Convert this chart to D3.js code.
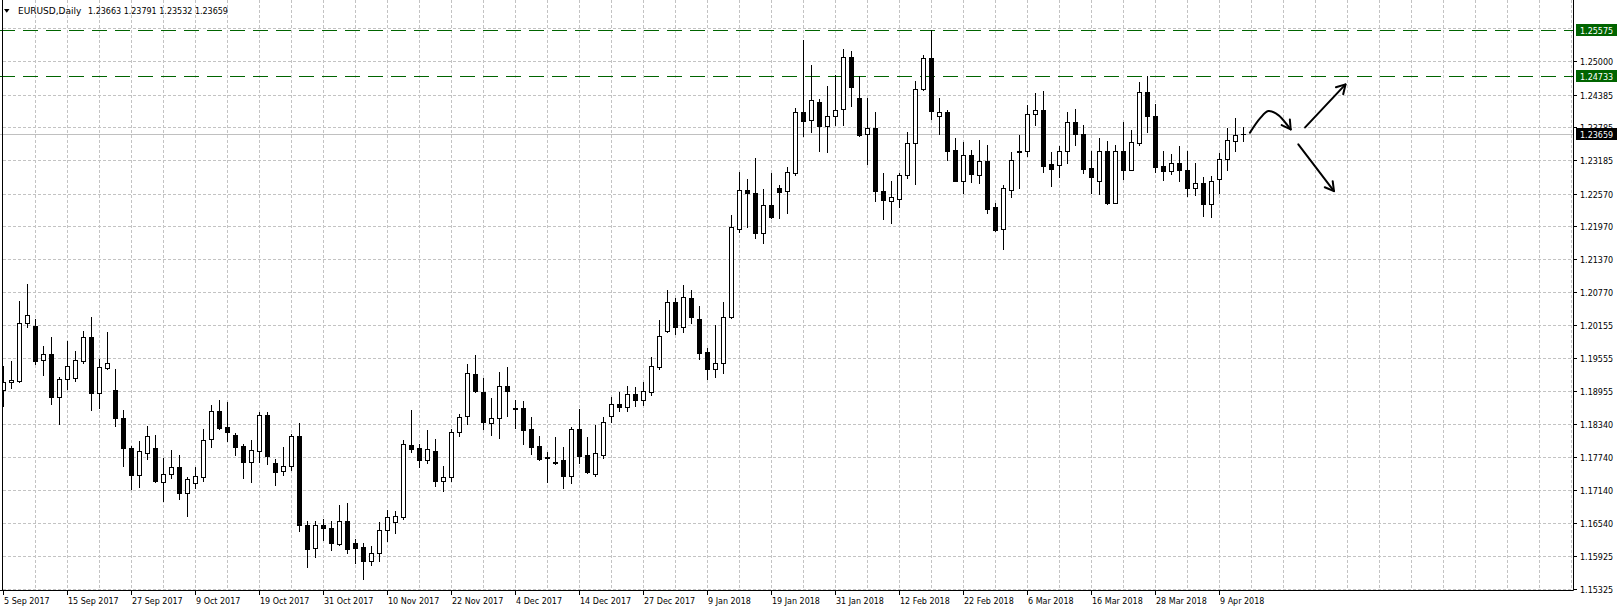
<!DOCTYPE html>
<html><head><meta charset="utf-8">
<script src="https://cdn.jsdelivr.net/npm/d3@7/dist/d3.min.js"></script>
<style>
body{margin:0;background:#fff;}
svg{display:block;}
text{font-family:"DejaVu Sans",sans-serif;}
</style>
</head><body>
<svg id="c" width="1617" height="613" font-size="8px"></svg>
<script>
const symbolTitle = "EURUSD,Daily";
const openP = [1.1897,1.1911,1.1914,1.2019,1.2015,1.1952,1.1964,1.1884,1.1917,1.1920,
1.1951,1.1994,1.1891,1.1938,1.1897,1.1846,1.1791,1.1742,1.1782,1.1791,
1.1729,1.1743,1.1756,1.1709,1.1727,1.1738,1.1807,1.1858,1.1829,1.1814,
1.1795,1.1765,1.1785,1.1851,1.1763,1.1748,1.1758,1.1812,1.1649,1.1607,
1.1650,1.1644,1.1615,1.1657,1.1616,1.1609,1.1584,1.1599,1.1640,1.1656,
1.1665,1.1796,1.1791,1.1768,1.1785,1.1731,1.1737,1.1821,1.1849,1.1926,
1.1894,1.1836,1.1845,1.1904,1.1864,1.1864,1.1826,1.1795,1.1774,1.1766,
1.1769,1.1740,1.1826,1.1778,1.1743,1.1778,1.1849,1.1872,1.1866,1.1890,
1.1878,1.1893,1.1939,1.2005,1.2058,1.2013,1.2065,1.2027,1.1967,1.1935,
1.1946,1.2030,1.2193,1.2263,1.2258,1.2184,1.2236,1.2268,1.2261,1.2294,
1.2406,1.2392,1.2424,1.2380,1.2400,1.2412,1.2507,1.2433,1.2366,1.2377,
1.2261,1.2244,1.2247,1.2291,1.2349,1.2448,1.2505,1.2400,1.2407,1.2337,
1.2281,1.2328,1.2292,1.2317,1.2232,1.2192,1.2264,1.2335,1.2335,1.2402,
1.2410,1.2311,1.2309,1.2335,1.2389,1.2366,1.2304,1.2280,1.2335,1.2240,
1.2336,1.2301,1.2349,1.2443,1.2400,1.2307,1.2298,1.2314,1.2300,1.2268,
1.2276,1.2238,1.2283,1.2320,1.2353,1.23663];
const highP = [1.1941,1.1951,1.2060,1.2091,1.2028,1.1978,1.1994,1.1921,1.1987,1.1969,
1.2005,1.2030,1.1954,1.2003,1.1936,1.1861,1.1795,1.1804,1.1832,1.1815,
1.1772,1.1787,1.1778,1.1738,1.1756,1.1826,1.1869,1.1878,1.1875,1.1818,
1.1799,1.1806,1.1857,1.1856,1.1771,1.1792,1.1816,1.1837,1.1657,1.1657,
1.1661,1.1657,1.1687,1.1690,1.1625,1.1616,1.1611,1.1655,1.1677,1.1676,
1.1806,1.1860,1.1799,1.1823,1.1807,1.1758,1.1826,1.1854,1.1945,1.1961,
1.1919,1.1882,1.1931,1.1939,1.1879,1.1877,1.1847,1.1813,1.1784,1.1811,
1.1793,1.1830,1.1862,1.1811,1.1833,1.1847,1.1885,1.1893,1.1905,1.1902,
1.1912,1.1958,1.2025,1.2080,1.2066,1.2090,1.2081,1.2051,1.1975,1.2017,
1.2058,1.2218,1.2297,1.2284,1.2322,1.2265,1.2295,1.2273,1.2306,1.2413,
1.2538,1.2493,1.2431,1.2454,1.2474,1.2522,1.2519,1.2473,1.2433,1.2406,
1.2295,1.2280,1.2294,1.2370,1.2464,1.2511,1.2557,1.2433,1.2411,1.2358,
1.2352,1.2337,1.2355,1.2346,1.2240,1.2273,1.2334,1.2364,1.2420,1.2441,
1.2445,1.2333,1.2344,1.2406,1.2412,1.2382,1.2335,1.2359,1.2354,1.2346,
1.2388,1.2373,1.2461,1.2473,1.2421,1.2335,1.2330,1.2344,1.2335,1.2314,
1.2288,1.2290,1.2332,1.2377,1.2395,1.23791];
const lowP = [1.1867,1.1901,1.1912,1.2013,1.1945,1.1925,1.1871,1.1835,1.1899,1.1914,
1.1947,1.1860,1.1865,1.1936,1.1831,1.1757,1.1716,1.1720,1.1771,1.1729,
1.1694,1.1735,1.1698,1.1666,1.1717,1.1730,1.1793,1.1826,1.1804,1.1778,
1.1735,1.1729,1.1766,1.1761,1.1723,1.1741,1.1751,1.1639,1.1573,1.1592,
1.1622,1.1604,1.1613,1.1598,1.1580,1.1551,1.1577,1.1584,1.1621,1.1636,
1.1661,1.1783,1.1756,1.1764,1.1722,1.1712,1.1731,1.1812,1.1835,1.1894,
1.1826,1.1815,1.1809,1.1850,1.1828,1.1799,1.1779,1.1769,1.1729,1.1762,
1.1717,1.1727,1.1763,1.1745,1.1739,1.1772,1.1838,1.1858,1.1859,1.1868,
1.1870,1.1888,1.1935,1.2003,1.2000,1.2003,1.2019,1.1954,1.1917,1.1921,
1.1928,1.2029,1.2187,1.2195,1.2175,1.2166,1.2213,1.2213,1.2222,1.2291,
1.2363,1.2370,1.2335,1.2334,1.2382,1.2383,1.2417,1.2362,1.2311,1.2244,
1.2211,1.2203,1.2233,1.2285,1.2275,1.2447,1.2393,1.2367,1.2319,1.2280,
1.2259,1.2278,1.2277,1.2221,1.2188,1.2156,1.2250,1.2268,1.2326,1.2383,
1.2297,1.2271,1.2288,1.2314,1.2346,1.2295,1.2259,1.2257,1.2238,1.2239,
1.2284,1.2300,1.2346,1.2370,1.2297,1.2282,1.2293,1.2280,1.2252,1.2255,
1.2216,1.2215,1.2259,1.2301,1.2336,1.23532];
const closeP = [1.1911,1.1915,1.2019,1.2034,1.1951,1.1964,1.1884,1.1917,1.1942,1.1953,
1.1994,1.1891,1.1939,1.1946,1.1845,1.1790,1.1742,1.1785,1.1813,1.1731,
1.1743,1.1756,1.1709,1.1734,1.1739,1.1806,1.1858,1.1828,1.1820,1.1793,
1.1765,1.1788,1.1851,1.1777,1.1747,1.1758,1.1812,1.1649,1.1606,1.1649,
1.1645,1.1617,1.1657,1.1606,1.1608,1.1584,1.1599,1.1640,1.1664,1.1666,
1.1798,1.1789,1.1768,1.1789,1.1731,1.1737,1.1821,1.1847,1.1928,1.1895,
1.1839,1.1845,1.1904,1.1896,1.1862,1.1824,1.1793,1.1771,1.1772,1.1764,
1.1740,1.1826,1.1776,1.1747,1.1781,1.1838,1.1872,1.1866,1.1890,1.1878,
1.1895,1.1941,1.1997,1.2058,1.2013,1.2067,1.2030,1.1965,1.1935,1.1946,
1.2030,1.2196,1.2263,1.2259,1.2184,1.2236,1.2215,1.2260,1.2297,1.2406,
1.2390,1.2428,1.2380,1.2400,1.2411,1.2507,1.2453,1.2364,1.2377,1.2262,
1.2245,1.2250,1.2291,1.2349,1.2448,1.2505,1.2409,1.2406,1.2335,1.2281,
1.2328,1.2293,1.2317,1.2229,1.2190,1.2267,1.2318,1.2333,1.2403,1.2410,
1.2308,1.2303,1.2335,1.2389,1.2366,1.2303,1.2288,1.2335,1.2239,1.2336,
1.2301,1.2351,1.2443,1.2400,1.2306,1.2299,1.2314,1.2300,1.2268,1.2276,
1.2238,1.2280,1.2320,1.2355,1.2365,1.23659];
const priceTickLabels = ["1.25000","1.24385","1.23785","1.23185","1.22570","1.21970","1.21370","1.20770","1.20155","1.19555","1.18955","1.18340","1.17740","1.17140","1.16540","1.15925","1.15325"];
const hiddenGridPrices = [1.25605];
const dateTickLabels = ["5 Sep 2017","15 Sep 2017","27 Sep 2017","9 Oct 2017","19 Oct 2017","31 Oct 2017","10 Nov 2017","22 Nov 2017","4 Dec 2017","14 Dec 2017","27 Dec 2017","9 Jan 2018","19 Jan 2018","31 Jan 2018","12 Feb 2018","22 Feb 2018","6 Mar 2018","16 Mar 2018","28 Mar 2018","9 Apr 2018"];
const barsPerDateLabel = 8;
const barsPerGridColumn = 4;
const totalGridBars = 200;
const levelLines = [1.25575, 1.24733];
const bidPrice = 1.23659;
// hand-drawn arrows (bar index, price)
const curveArrow = [[155.8,1.23685],[157.06,1.23948],[158.1,1.24082],[159.35,1.24009],[160.48,1.23826],[160.9,1.23747]];
const upArrow = [[162.7,1.23783],[167.75,1.24571]];
const downArrow = [[161.85,1.23472],[166.31,1.22616]];

const W = 1617, H = 613;
const plotRight = 1573, plotBottom = 590;
const svg = d3.select("#c");
const x = d3.scaleLinear().domain([0, 1]).range([3.5, 11.5]);
const y = d3.scaleLinear().domain([1.15325, 1.25000]).range([589, 61]);
const ry = p => Math.round(y(p)) + 0.5;

svg.append("rect").attr("width", W).attr("height", H).attr("fill", "#fff");
svg.append("defs").append("clipPath").attr("id", "plot")
  .append("rect").attr("x", 3).attr("y", 0).attr("width", plotRight - 3).attr("height", plotBottom);

const grid = svg.append("g").attr("stroke", "#c3c3c3").attr("stroke-dasharray", "3,2").attr("stroke-width", 1);
const gridPrices = priceTickLabels.map(Number).concat(hiddenGridPrices);
grid.selectAll("line.h").data(gridPrices).join("line").attr("class", "h")
  .attr("x1", 3).attr("x2", plotRight).attr("y1", ry).attr("y2", ry);
const vIdx = d3.range(barsPerGridColumn, totalGridBars, barsPerGridColumn).filter(i => x(i) < plotRight - 1);
grid.selectAll("line.v").data(vIdx).join("line").attr("class", "v")
  .attr("x1", i => x(i)).attr("x2", i => x(i)).attr("y1", 0).attr("y2", plotBottom);

// level lines
svg.append("g").selectAll("line").data(levelLines).join("line")
  .attr("x1", 0).attr("x2", plotRight).attr("y1", ry).attr("y2", ry)
  .attr("stroke", "#006400").attr("stroke-width", 1).attr("stroke-dasharray", "15,8");
// bid line
svg.append("line").attr("x1", 0).attr("x2", plotRight).attr("y1", ry(bidPrice)).attr("y2", ry(bidPrice))
  .attr("stroke", "#c0c0c0").attr("stroke-width", 1);

// candles
const data = openP.map((o, i) => ({i, o, h: highP[i], l: lowP[i], c: closeP[i]}));
const cg = svg.append("g").attr("clip-path", "url(#plot)");
const candle = cg.selectAll("g").data(data).join("g");
candle.append("line")
  .attr("x1", d => x(d.i)).attr("x2", d => x(d.i))
  .attr("y1", d => Math.round(y(d.h))).attr("y2", d => Math.round(y(d.l)) + 1)
  .attr("stroke", "#000").attr("stroke-width", 1);
candle.each(function(d) {
  const g = d3.select(this);
  const top = ry(Math.max(d.o, d.c)), bot = ry(Math.min(d.o, d.c));
  if (bot - top < 1) {
    g.append("line").attr("x1", x(d.i) - 2.5).attr("x2", x(d.i) + 2.5).attr("y1", top).attr("y2", top)
      .attr("stroke", "#000").attr("stroke-width", 1);
  } else {
    g.append("rect").attr("x", x(d.i) - 2).attr("y", top).attr("width", 4).attr("height", bot - top)
      .attr("fill", d.c >= d.o ? "#fff" : "#000").attr("stroke", "#000").attr("stroke-width", 1);
  }
});

// arrows
const lineGen = d3.line().x(d => x(d[0])).y(d => y(d[1]));
const arrows = svg.append("g").attr("fill", "none").attr("stroke", "#000").attr("stroke-width", 2)
  .attr("stroke-linecap", "round").attr("stroke-linejoin", "round");
function addArrow(pts, curve, backPt) {
  arrows.append("path").attr("d", lineGen.curve(curve)(pts));
  const tip = pts[pts.length - 1];
  const tx = x(tip[0]), ty = y(tip[1]);
  const b = backPt || pts[pts.length - 2];
  const a = Math.atan2(y(b[1]) - ty, x(b[0]) - tx);
  const len = 10, sp = Math.PI / 6;
  arrows.append("path").attr("d", `M${tx + len * Math.cos(a + sp)},${ty + len * Math.sin(a + sp)}L${tx},${ty}L${tx + len * Math.cos(a - sp)},${ty + len * Math.sin(a - sp)}`);
}
addArrow(curveArrow, d3.curveCatmullRom, [159.6, 1.24020]);
addArrow(upArrow, d3.curveLinear);
addArrow(downArrow, d3.curveLinear);

// borders
svg.append("line").attr("x1", 2.5).attr("x2", 2.5).attr("y1", 0).attr("y2", plotBottom + 0.5).attr("stroke", "#000");
svg.append("line").attr("x1", plotRight + 0.5).attr("x2", plotRight + 0.5).attr("y1", 0).attr("y2", plotBottom + 0.5).attr("stroke", "#000");
svg.append("line").attr("x1", 0).attr("x2", plotRight + 0.5).attr("y1", plotBottom + 0.5).attr("y2", plotBottom + 0.5).attr("stroke", "#000");

// price axis
const pa = svg.append("g");
priceTickLabels.forEach(s => {
  const p = +s, yy = ry(p);
  pa.append("line").attr("x1", plotRight + 1).attr("x2", plotRight + 4).attr("y1", yy).attr("y2", yy).attr("stroke", "#000");
  pa.append("text").attr("x", 1580).attr("y", Math.round(y(p)) + 3.5).attr("fill", "#000").text(s);
});
function priceTag(p, bg) {
  const yy = Math.round(y(p));
  pa.append("rect").attr("x", 1576).attr("y", yy - 6).attr("width", 41).attr("height", 12).attr("fill", bg);
  pa.append("text").attr("x", 1580).attr("y", yy + 3.5).attr("fill", "#fff").text(p.toFixed(5));
}
levelLines.forEach(p => priceTag(p, "#006400"));
priceTag(bidPrice, "#000");

// date axis
const da = svg.append("g");
dateTickLabels.forEach((s, k) => {
  const xi = x(k * barsPerDateLabel);
  da.append("line").attr("x1", xi).attr("x2", xi).attr("y1", plotBottom + 1).attr("y2", plotBottom + 5).attr("stroke", "#000");
  da.append("text").attr("x", xi + 0.5).attr("y", 604).attr("fill", "#000").text(s);
});

// title
const last = data[data.length - 1];
svg.append("path").attr("d", "M4,9L9.5,9L6.75,12.8Z").attr("fill", "#000");
svg.append("text").attr("x", 18).attr("y", 14).attr("fill", "#000").style("font-size", "9px").text(symbolTitle);
svg.append("text").attr("x", 88).attr("y", 14).attr("fill", "#000").style("font-size", "8px")
  .text([last.o, last.h, last.l, last.c].map(v => v.toFixed(5)).join(" "));
</script>
</body></html>
